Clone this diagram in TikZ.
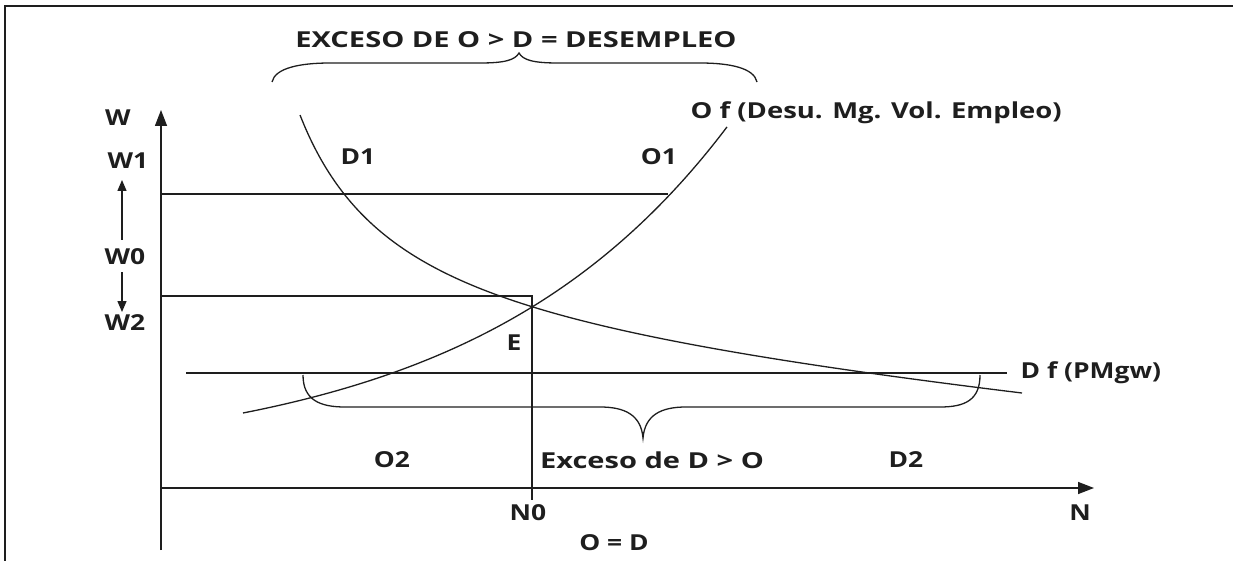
\documentclass[tikz,border=0pt]{standalone}
\usepackage{fontspec}
\setmainfont{Open Sans}[FakeStretch=1.2]
\usetikzlibrary{arrows.meta}
\definecolor{ink}{HTML}{1E1E1E}
\begin{document}
\begin{tikzpicture}[x=1pt,y=-1pt, line width=1.4pt, draw=ink,
  lbl/.style={font=\bfseries\fontsize{22}{22}\selectfont, inner sep=0pt, text=ink},
  axisarrow/.style={-{Triangle[length=16pt,width=12pt]}},
  smallarrow/.style={-{Triangle[length=11pt,width=9pt]}},
  curveline/.style={line width=1.3pt},
  bracepath/.style={line width=1.3pt}]
\useasboundingbox (0,0) rectangle (1233,561);
% frame
\coordinate (fb) at (5,561);
\coordinate (fc) at (5,6);
\coordinate (fr) at (1233,6);
\draw[line width=2pt] (fb) -- (fc) -- (fr);
% axes
\coordinate (Ybot) at (161,550);
\coordinate (Ytop) at (161,110);
\coordinate (Org) at (161,488);
\coordinate (Xend) at (1094,488);
\draw[axisarrow] (Ybot) -- (Ytop);
\draw[axisarrow] (Org) -- (Xend);
% wage lines
\coordinate (w1a) at (161,194);
\coordinate (w1b) at (668,194);
\draw (w1a) -- (w1b);
\coordinate (w0a) at (161,296);
\coordinate (w0b) at (532,296);
\coordinate (n0b) at (532,500);
\draw (w0a) -- (w0b) -- (n0b);
\coordinate (w2a) at (186,373);
\coordinate (w2b) at (1007,373);
\draw (w2a) -- (w2b);
% demand curve
\draw[curveline] plot[domain=300:1022, samples=150, smooth] (\x, {334.9 + 0.0861*\x - 245.72/((\x-200)/100)});
% supply curve
\draw[curveline] plot[domain=243:727, samples=120, smooth] (\x, {463 - 50*exp(0.00393*(\x-243))});
% upper brace
\coordinate (ub1) at (272,82);
\coordinate (ubt) at (519,53);
\coordinate (ub2) at (757,82);
\draw[bracepath] (ub1) .. controls (275,68) and (300,63) .. (330,63) -- (480,63)
  .. controls (505,63) and (515,60) .. (ubt)
  .. controls (523,60) and (533,63) .. (558,63) -- (700,63)
  .. controls (730,63) and (754,68) .. (ub2);
% lower brace
\coordinate (lb1) at (303,375);
\coordinate (lbt) at (643,438);
\coordinate (lb2) at (980,375);
\draw[bracepath] (lb1) .. controls (303,400) and (320,407) .. (345,407) -- (600,407)
  .. controls (625,407) and (641,415) .. (lbt)
  .. controls (645,415) and (661,407) .. (686,407) -- (940,407)
  .. controls (965,407) and (980,400) .. (lb2);
% labels
\node[lbl] (title) at (516,40) {\scalebox{1.1}[1]{EXCESO DE O > D = DESEMPLEO}};
\node[lbl] (W) at (118,118) {W};
\node[lbl] (W1) at (128,161) {W1};
\node[lbl] (W0) at (125,257) {W0};
\node[lbl] (W2) at (125,323) {W2};
\coordinate (au1) at (122,240);
\coordinate (au2) at (122,180);
\coordinate (ad1) at (122,272);
\coordinate (ad2) at (122,312);
\draw[smallarrow] (au1) -- (au2);
\draw[smallarrow] (ad1) -- (ad2);
\node[lbl] (D1) at (358,157) {D1};
\node[lbl] (O1) at (659,157) {O1};
\node[lbl, anchor=west] (Of) at (690,113) {\scalebox{1.04}[1]{O f (Desu. Mg. Vol. Empleo)}};
\node[lbl] (E) at (514,343) {E};
\node[lbl, anchor=west] (Df) at (1020,373) {D f (PMgw)};
\node[lbl] (O2) at (392,460) {O2};
\node[lbl] (exc) at (652,460) {\scalebox{1.1}[1]{Exceso de D > O}};
\node[lbl] (D2) at (906,460) {D2};
\node[lbl] (N0) at (528,513) {N0};
\node[lbl] (N) at (1080,513) {N};
\node[lbl] (OD) at (614,543) {O = D};
\end{tikzpicture}
\end{document}
